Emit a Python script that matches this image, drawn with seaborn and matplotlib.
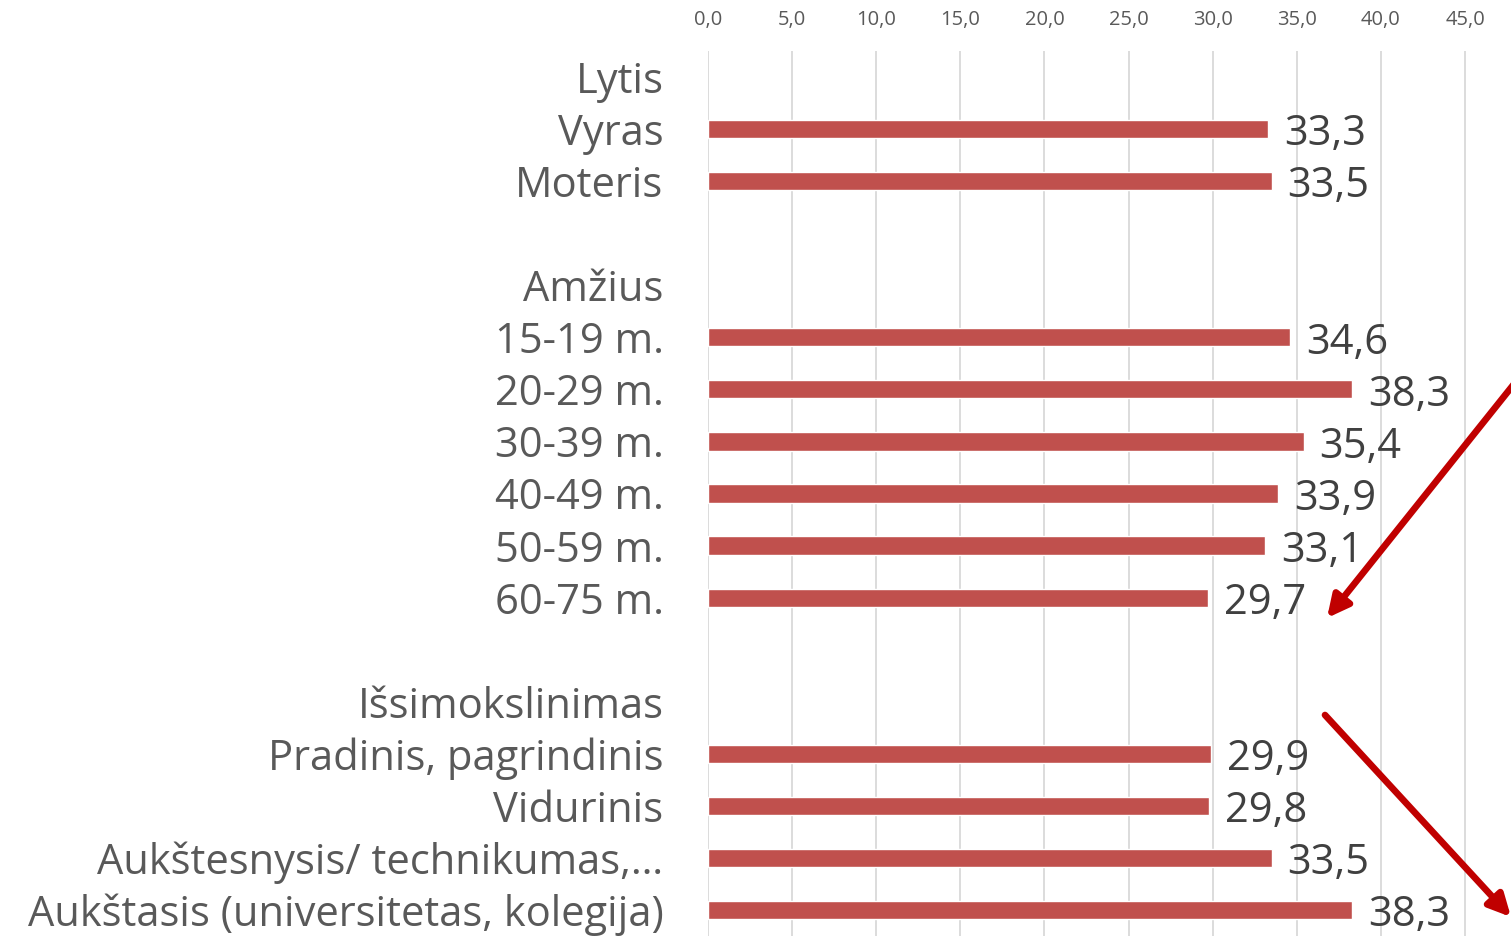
import numpy as np
import pandas as pd
import matplotlib
matplotlib.use("Agg")
import matplotlib.pyplot as plt
import seaborn as sns

# row labels, top to bottom (headers and blank spacer rows included)
rows = ["Lytis", "Vyras", "Moteris", "",
        "Amžius", "15-19 m.", "20-29 m.", "30-39 m.", "40-49 m.", "50-59 m.", "60-75 m.", "",
        "Išsimokslinimas", "Pradinis, pagrindinis", "Vidurinis",
        "Aukštesnysis/ technikumas,…", "Aukštasis (universitetas, kolegija)"]
# values (None for headers / spacers)
values = [None, 33.3, 33.5, None,
          None, 34.6, 38.3, 35.4, 33.9, 33.1, 29.7, None,
          None, 29.9, 29.8, 33.5, 38.3]
x_ticks = [0, 5, 10, 15, 20, 25, 30, 35, 40, 45]

sns.set_style("white")
plt.rcParams['font.family'] = ['Open Sans', 'DejaVu Sans']

# unique keys so seaborn keeps every row (even blanks) on the axis
keys = [f"r{i}" for i in range(len(rows))]
df = pd.DataFrame({"key": keys, "value": values}).dropna()

fig = plt.figure(figsize=(15.11, 9.36), dpi=100)
ax = fig.add_axes([708 / 1511, 0.0, 1 - 708 / 1511, 1 - 51 / 936])

sns.barplot(data=df, x="value", y="key", order=keys, orient="h",
            color="#C0504D", saturation=1, width=0.35, ax=ax)

ax.set_xlim(0, (1511 - 708) / (757 / 45))
ax.set_ylim(len(rows) - 0.5, -0.5)
ax.set_xticks(x_ticks)
ax.set_xticklabels([f"{t:.1f}".replace(".", ",") for t in x_ticks],
                   fontsize=14.5, color="#595959")
ax.xaxis.tick_top()
ax.tick_params(axis="x", length=0, pad=15)
ax.set_yticks(range(len(rows)))
ax.set_yticklabels(rows, fontsize=30, color="#595959")
ax.tick_params(axis="y", length=0, pad=32)
ax.set_xlabel("")
ax.set_ylabel("")
ax.grid(axis="x", color="#D9D9D9", linewidth=1.3)
ax.set_axisbelow(True)
for s in ax.spines.values():
    s.set_visible(False)

# data labels
for i, v in enumerate(values):
    if v is not None:
        ax.text(v + 0.95, i + 0.1, f"{v:.1f}".replace(".", ","),
                fontsize=30, color="#404040", va="center", ha="left")

# red trend arrows
arrow = dict(arrowstyle="-|>,head_length=1.3,head_width=0.65", color="#C00000",
             lw=4.8, shrinkA=0, shrinkB=0)
ax.annotate("", xy=(1327 / 1511, 1 - 618 / 936), xytext=(1514 / 1511, 1 - 384 / 936),
            xycoords="figure fraction", textcoords="figure fraction",
            arrowprops=arrow, annotation_clip=False)
ax.annotate("", xy=(1511 / 1511, 1 - 917 / 936), xytext=(1325 / 1511, 1 - 715 / 936),
            xycoords="figure fraction", textcoords="figure fraction",
            arrowprops=arrow, annotation_clip=False)

fig.savefig("out.png", dpi=100)
